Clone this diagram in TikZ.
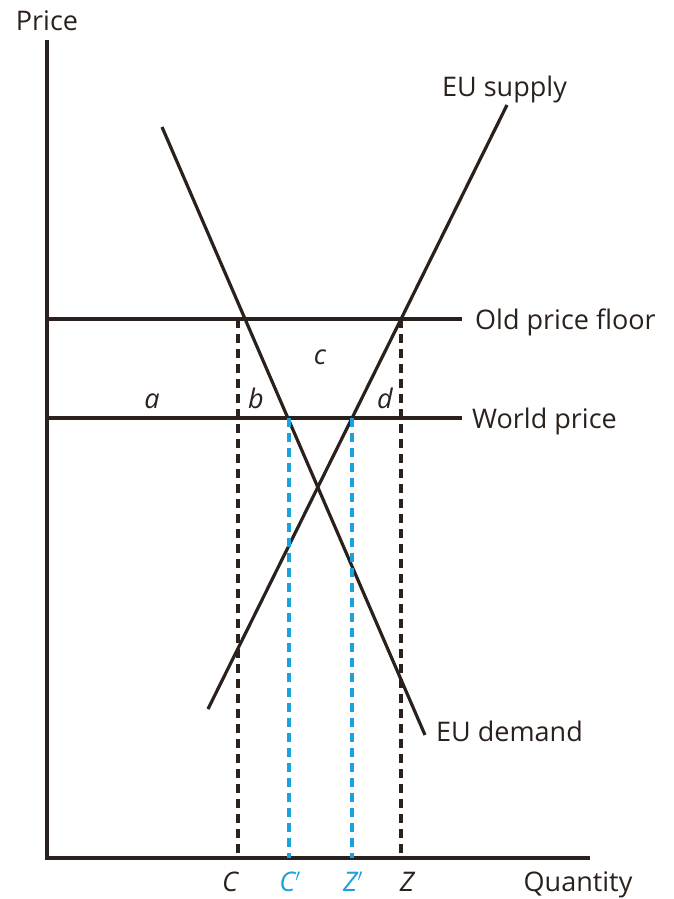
\documentclass[tikz,border=0pt]{standalone}
\usepackage{fontspec}
\setmainfont{Open Sans}
\usetikzlibrary{positioning}
\definecolor{ink}{HTML}{2B211C}
\definecolor{quota}{HTML}{1BA1DC}
\tikzset{
  curve/.style={ink, line width=3.2pt},
  guide/.style={ink, line width=3.2pt, dash pattern=on 9pt off 6pt},
  newguide/.style={guide, quota},
  lbl/.style={font=\fontsize{27}{32}\selectfont, text=ink, inner sep=0pt},
  qlbl/.style={lbl, font=\fontsize{27}{32}\selectfont\itshape},
}
\begin{document}
\begin{tikzpicture}[x=1pt,y=-1pt]
\useasboundingbox (0,0) rectangle (673,899);
% axes
\coordinate (ytop) at (47,40);
\coordinate (O) at (47,858);
\coordinate (xend) at (590,858);
\draw[curve] (ytop) -- (O) -- (xend);
\node[lbl, anchor=base] (price) at (47,31) {Price};
\node[lbl, anchor=base] (quantity) at (578,891) {Quantity};
% price levels
\coordinate (floorL) at (47,319);
\coordinate (floorR) at (462,319);
\coordinate (worldL) at (47,418);
\coordinate (worldR) at (462,418);
\draw[curve] (floorL) -- (floorR);
\draw[curve] (worldL) -- (worldR);
\node[lbl, anchor=base west] (floorlbl) at (475,329) {Old price floor};
\node[lbl, anchor=base west] (worldlbl) at (472,428) {World price};
% demand and supply
\coordinate (dtop) at (162,127);
\coordinate (dbot) at (425,735);
\coordinate (sbot) at (208,709);
\coordinate (stop) at (507,105);
\draw[curve] (dtop) -- (dbot);
\draw[curve] (sbot) -- (stop);
\node[lbl, anchor=base west] (supplylbl) at (442,96) {EU supply};
\node[lbl, anchor=base west] (demandlbl) at (436,741) {EU demand};
% quantities
\coordinate (Ctop) at (238,319);
\coordinate (Cbot) at (238,858);
\coordinate (Ztop) at (401,319);
\coordinate (Zbot) at (401,858);
\coordinate (C'top) at (289,418);
\coordinate (C'bot) at (289,858);
\coordinate (Z'top) at (352,418);
\coordinate (Z'bot) at (352,858);
\draw[guide] (Ctop) -- (Cbot);
\draw[guide] (Ztop) -- (Zbot);
\draw[newguide] (C'top) -- (C'bot);
\draw[newguide] (Z'top) -- (Z'bot);
\node[qlbl, anchor=base] (C) at (230,891) {C};
\node[qlbl, anchor=base, text=quota] (C') at (290,891) {C$'$};
\node[qlbl, anchor=base, text=quota] (Z') at (353,891) {Z$'$};
\node[qlbl, anchor=base] (Z) at (407,891) {Z};
% areas
\node[qlbl, anchor=base] (a) at (152,408) {a};
\node[qlbl, anchor=base] (b) at (256,408) {b};
\node[qlbl, anchor=base] (c) at (320,364) {c};
\node[qlbl, anchor=base] (d) at (385,408) {d};
\end{tikzpicture}
\end{document}
